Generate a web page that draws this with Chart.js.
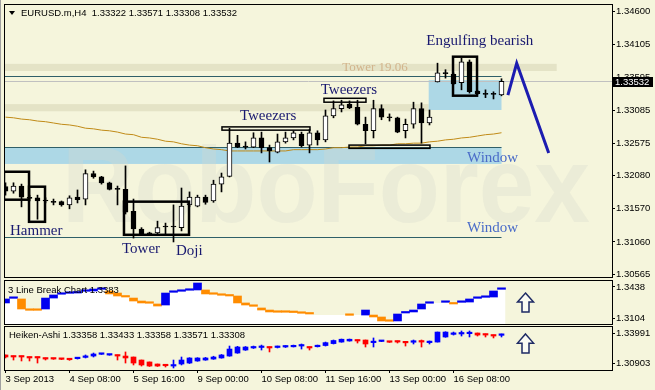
<!DOCTYPE html>
<html>
<head>
<meta charset="utf-8">
<script src="https://cdn.jsdelivr.net/npm/chart.js@4.4.1/dist/chart.umd.min.js"></script>
<style>
  html, body { margin: 0; padding: 0; background: #f5f5dc; }
  #wrap { position: relative; width: 655px; height: 390px; overflow: hidden; background: #f5f5dc; }
  #wrap canvas { position: absolute; left: 0; }
  #frame { position: absolute; left: 0; top: 0; width: 1px; height: 390px; background: #a0a0a0; }
</style>
</head>
<body>
<div id="wrap">
  <canvas id="main" width="655" height="280" style="top:0;width:655px;height:280px"></canvas>
  <canvas id="lbreak" width="655" height="45" style="top:280px;width:655px;height:45px"></canvas>
  <canvas id="heiken" width="655" height="65" style="top:325px;width:655px;height:65px"></canvas>
  <div id="frame"></div>
</div>
<script>
// EURUSD H4 candles, 3 Sep - 16 Sep 2013
const candleOpen = [1.3191, 1.3184, 1.3192, 1.3174, 1.3174, 1.3170, 1.3168, 1.3168, 1.3163, 1.3175,
  1.3172, 1.3211, 1.3206, 1.3197, 1.3188, 1.3187, 1.3153, 1.3126, 1.3120, 1.3120,
  1.3130, 1.3130, 1.3128, 1.3163, 1.3161, 1.3175, 1.3169, 1.3195, 1.3207, 1.3258,
  1.3253, 1.3252, 1.3266, 1.3251, 1.3244, 1.3260, 1.3266, 1.3272, 1.3255, 1.3274,
  1.3263, 1.3300, 1.3311, 1.3318, 1.3313, 1.3287, 1.3277, 1.3311, 1.3298, 1.3297,
  1.3277, 1.3287, 1.3311, 1.3289, 1.3352, 1.3366, 1.3364, 1.3351, 1.3383, 1.3338,
  1.3334, 1.3334, 1.33322];
const candleHigh = [1.3197, 1.3197, 1.3195, 1.3178, 1.3178, 1.3174, 1.3172, 1.3169, 1.3177, 1.3186,
  1.3217, 1.3215, 1.3207, 1.3198, 1.3192, 1.3223, 1.3172, 1.3128, 1.3121, 1.3138,
  1.3135, 1.3163, 1.3189, 1.3183, 1.3178, 1.3178, 1.3201, 1.3212, 1.3281, 1.3270,
  1.3260, 1.3274, 1.3275, 1.3255, 1.3272, 1.3275, 1.3277, 1.3275, 1.3279, 1.3277,
  1.3309, 1.3323, 1.3324, 1.3323, 1.3324, 1.3298, 1.3324, 1.3317, 1.3303, 1.3298,
  1.3295, 1.3321, 1.3320, 1.3309, 1.3381, 1.3371, 1.3366, 1.3389, 1.3386, 1.3339,
  1.3340, 1.3337, 1.33571];
const candleLow = [1.3178, 1.3181, 1.3160, 1.3169, 1.3141, 1.3166, 1.3163, 1.3161, 1.3157, 1.3166,
  1.3163, 1.3204, 1.3195, 1.3186, 1.3163, 1.3149, 1.3112, 1.3117, 1.3117, 1.3118,
  1.3118, 1.3106, 1.3123, 1.3160, 1.3160, 1.3164, 1.3167, 1.3183, 1.3206, 1.3251,
  1.3249, 1.3251, 1.3243, 1.3229, 1.3243, 1.3258, 1.3263, 1.3252, 1.3243, 1.3255,
  1.3260, 1.3297, 1.3306, 1.3311, 1.3286, 1.3257, 1.3266, 1.3294, 1.3292, 1.3274,
  1.3266, 1.3281, 1.3258, 1.3286, 1.3352, 1.3358, 1.3348, 1.3340, 1.3335, 1.3333,
  1.3328, 1.3326, 1.33308];
const candleClose = [1.3184, 1.3192, 1.3175, 1.3173, 1.3169, 1.3169, 1.3167, 1.3163, 1.3174, 1.3171,
  1.3211, 1.3206, 1.3197, 1.3187, 1.3187, 1.3152, 1.3126, 1.3118, 1.3118, 1.3128,
  1.3129, 1.3129, 1.3161, 1.3175, 1.3175, 1.3167, 1.3195, 1.3206, 1.3258, 1.3252,
  1.3252, 1.3266, 1.3251, 1.3246, 1.3260, 1.3266, 1.3274, 1.3254, 1.3274, 1.3263,
  1.3300, 1.3311, 1.3317, 1.3312, 1.3287, 1.3277, 1.3311, 1.3298, 1.3297, 1.3275,
  1.3287, 1.3311, 1.3289, 1.3298, 1.3366, 1.3365, 1.3349, 1.3383, 1.3337, 1.3334,
  1.3333, 1.3333, 1.33532];
const maValues = [1.3298, 1.3297, 1.3295, 1.3294, 1.3292, 1.3291, 1.3289, 1.3287, 1.3286, 1.3284,
  1.3281, 1.3280, 1.3278, 1.3277, 1.3275, 1.3272, 1.3271, 1.3267, 1.3266, 1.3264,
  1.3261, 1.3260, 1.3257, 1.3255, 1.3254, 1.3251, 1.3249, 1.3248, 1.3246, 1.3246,
  1.3246, 1.3246, 1.3246, 1.3246, 1.3246, 1.3246, 1.3248, 1.3248, 1.3248, 1.3248,
  1.3249, 1.3251, 1.3251, 1.3252, 1.3252, 1.3254, 1.3254, 1.3255, 1.3255, 1.3257,
  1.3257, 1.3258, 1.3258, 1.3260, 1.3261, 1.3263, 1.3264, 1.3266, 1.3267, 1.3269,
  1.3271, 1.3272, 1.3274];
const mainTicks = [1.34600, 1.34105, 1.33595, 1.33085, 1.32575, 1.32080, 1.31570, 1.31060, 1.30565];

// 3 Line Break bricks (1 up, -1 down, 0 none)
const brickLow = [1.3266, 1.3316, 1.3201, 1.3187, 1.3187, 1.3201, 1.3319, 1.3360, 1.3370, 1.3373,
  1.3392, 1.3395, 1.3413, 1.3363, 1.3341, 1.3330, 1.3287, 1.3266, 1.3263, 1.3233,
  1.3244, 1.3381, 1.3392, 1.3403, 1.3406, 1.3363, 1.3360, 1.3349, 1.3341, 1.3266,
  1.3244, 1.3230, 1.3190, 1.3169, 1.3166, 1.3166, 1.3163, 1.3155, 1.3147, 1.3136,
  1.3136, 1.3136, 1.3136, 1.3133, 1.3136, 1.3136, 1.3115, 1.3072, 1.3069, 1.3072,
  1.3158, 1.3169, 1.3201, 1.3263, 1.3266, 1.3273, 1.3255, 1.3273, 1.3276, 1.3316,
  1.3327, 1.3330, 1.3413];
const brickHigh = [1.3309, 1.3319, 1.3309, 1.3190, 1.3190, 1.3319, 1.3352, 1.3363, 1.3373, 1.3384,
  1.3395, 1.3416, 1.3416, 1.3395, 1.3373, 1.3333, 1.3319, 1.3287, 1.3266, 1.3255,
  1.3373, 1.3384, 1.3395, 1.3406, 1.3481, 1.3406, 1.3363, 1.3352, 1.3352, 1.3341,
  1.3266, 1.3233, 1.3212, 1.3190, 1.3169, 1.3169, 1.3166, 1.3158, 1.3158, 1.3136,
  1.3136, 1.3136, 1.3136, 1.3136, 1.3136, 1.3190, 1.3136, 1.3115, 1.3072, 1.3147,
  1.3169, 1.3190, 1.3255, 1.3266, 1.3266, 1.3276, 1.3266, 1.3276, 1.3309, 1.3319,
  1.3330, 1.3395, 1.3416];
const brickDir = [1, 1, -1, -1, -1, 1, 1, 1, 1, 1,
  1, 1, 1, -1, -1, -1, -1, -1, -1, -1,
  1, 1, 1, 1, 1, -1, -1, -1, -1, -1,
  -1, -1, -1, -1, -1, -1, -1, -1, -1, 0,
  0, 0, 0, -1, 0, 1, -1, -1, -1, 1,
  1, 1, 1, 1, 0, 1, -1, 1, 1, 1,
  1, 1, 1];
const lbreakTicks = [1.3438, 1.3104];

// Heiken-Ashi
const haOpen = [1.3173, 1.3162, 1.3162, 1.3152, 1.3152, 1.3142, 1.3140, 1.3131, 1.3131, 1.3135,
  1.3148, 1.3162, 1.3180, 1.3172, 1.3173, 1.3162, 1.3152, 1.3121, 1.3101, 1.3080,
  1.3068, 1.3059, 1.3080, 1.3090, 1.3111, 1.3121, 1.3131, 1.3142, 1.3162, 1.3193,
  1.3224, 1.3245, 1.3250, 1.3255, 1.3250, 1.3255, 1.3257, 1.3265, 1.3255, 1.3258,
  1.3270, 1.3290, 1.3306, 1.3317, 1.3327, 1.3327, 1.3300, 1.3312, 1.3308, 1.3317,
  1.3306, 1.3304, 1.3310, 1.3300, 1.3306, 1.3358, 1.3385, 1.3389, 1.3392, 1.3399,
  1.3389, 1.3378, 1.3375];
const haHigh = [1.3173, 1.3162, 1.3162, 1.3152, 1.3152, 1.3142, 1.3140, 1.3131, 1.3135, 1.3145,
  1.3173, 1.3193, 1.3190, 1.3178, 1.3173, 1.3204, 1.3152, 1.3121, 1.3101, 1.3080,
  1.3070, 1.3121, 1.3152, 1.3145, 1.3145, 1.3148, 1.3160, 1.3178, 1.3265, 1.3262,
  1.3260, 1.3265, 1.3275, 1.3255, 1.3265, 1.3270, 1.3275, 1.3286, 1.3255, 1.3275,
  1.3306, 1.3327, 1.3337, 1.3337, 1.3327, 1.3327, 1.3348, 1.3320, 1.3308, 1.3317,
  1.3306, 1.3327, 1.3327, 1.3317, 1.3409, 1.3412, 1.3409, 1.3420, 1.3420, 1.3399,
  1.3389, 1.3378, 1.3389];
const haLow = [1.3142, 1.3121, 1.3111, 1.3111, 1.3090, 1.3121, 1.3128, 1.3125, 1.3118, 1.3131,
  1.3142, 1.3152, 1.3178, 1.3170, 1.3121, 1.3090, 1.3070, 1.3059, 1.3055, 1.3055,
  1.3049, 1.3039, 1.3070, 1.3085, 1.3108, 1.3118, 1.3128, 1.3140, 1.3160, 1.3190,
  1.3220, 1.3240, 1.3224, 1.3204, 1.3245, 1.3250, 1.3255, 1.3234, 1.3224, 1.3255,
  1.3265, 1.3286, 1.3304, 1.3315, 1.3296, 1.3255, 1.3255, 1.3310, 1.3302, 1.3296,
  1.3265, 1.3286, 1.3255, 1.3286, 1.3306, 1.3355, 1.3378, 1.3368, 1.3358, 1.3368,
  1.3358, 1.3348, 1.3358];
const haClose = [1.3152, 1.3152, 1.3152, 1.3142, 1.3142, 1.3131, 1.3131, 1.3128, 1.3124, 1.3142,
  1.3155, 1.3183, 1.3185, 1.3175, 1.3162, 1.3142, 1.3090, 1.3070, 1.3059, 1.3059,
  1.3062, 1.3062, 1.3121, 1.3142, 1.3142, 1.3142, 1.3152, 1.3173, 1.3234, 1.3255,
  1.3255, 1.3255, 1.3255, 1.3245, 1.3255, 1.3265, 1.3272, 1.3268, 1.3245, 1.3270,
  1.3300, 1.3322, 1.3335, 1.3335, 1.3317, 1.3286, 1.3305, 1.3317, 1.3304, 1.3306,
  1.3298, 1.3310, 1.3306, 1.3304, 1.3409, 1.3409, 1.3392, 1.3395, 1.3395, 1.3378,
  1.3378, 1.3368, 1.3380];
const heikenTicks = [1.33991, 1.30903];

const xTickIdx = [0, 8, 16, 24, 32, 40, 48, 56];
const xTickLabels = ['3 Sep 2013', '4 Sep 08:00', '5 Sep 16:00', '9 Sep 00:00',
  '10 Sep 08:00', '11 Sep 16:00', '13 Sep 00:00', '16 Sep 08:00'];

const colors = {
  bg: '#f5f5dc',
  tan: '#e4e3c6',
  lightBlue: '#add8e6',
  level: '#2f5f68',
  bid: '#c0c0c0',
  ma: '#c08a17',
  note: '#191970',
  window: '#4a6cc8',
  tower: '#d2b48c',
  arrow: '#1c1cb0',
  up: '#0000f0',
  down: '#ff8c00',
  haUp: '#0000ff',
  haDown: '#ff0000'
};

const sans = '"Liberation Sans", Arial, sans-serif';
const serif = '"Liberation Serif", "Times New Roman", serif';
const axisFont = { family: sans, size: 9.5 };
const xMin = -0.1875;
const xMax = xMin + 608 / 8;
const idx = candleOpen.map((_, i) => i);

function xScale(display) {
  return {
    type: 'linear', display, min: xMin, max: xMax, offset: false,
    afterBuildTicks: (s) => { s.ticks = xTickIdx.map((v) => ({ value: v })); },
    afterFit: (s) => { s.height = display ? 20 : 0; s.paddingLeft = 0; s.paddingRight = 0; },
    ticks: { callback: (v, i) => xTickLabels[i], align: 'start', color: '#000', font: axisFont, padding: 1, autoSkip: false, maxRotation: 0, minRotation: 0 },
    grid: { drawOnChartArea: false, drawTicks: true, tickLength: 3, color: '#000', offset: false },
    border: { display: false }
  };
}

function yScale(min, max, ticks, digits) {
  return {
    position: 'right', min, max,
    afterBuildTicks: (s) => { s.ticks = ticks.map((v) => ({ value: v })); },
    afterFit: (s) => { s.width = 43; s.paddingTop = 0; s.paddingBottom = 0; },
    ticks: { callback: (v) => Number(v).toFixed(digits), color: '#000', font: axisFont, padding: 1 },
    grid: { drawOnChartArea: false, drawTicks: true, tickLength: 3, color: '#000' },
    border: { display: false }
  };
}

function frame(ctx, a) {
  ctx.save();
  ctx.strokeStyle = '#000';
  ctx.lineWidth = 1;
  ctx.strokeRect(a.left + 0.5, a.top - 0.5, a.right - a.left, a.bottom - a.top + 1);
  ctx.restore();
}

function upArrow(ctx, cx, top, bottom) {
  const head = top + (bottom - top) * 0.48;
  ctx.save();
  ctx.beginPath();
  ctx.moveTo(cx, top);
  ctx.lineTo(cx + 8, head);
  ctx.lineTo(cx + 3.5, head);
  ctx.lineTo(cx + 3.5, bottom);
  ctx.lineTo(cx - 3.5, bottom);
  ctx.lineTo(cx - 3.5, head);
  ctx.lineTo(cx - 8, head);
  ctx.closePath();
  ctx.fillStyle = '#fbfbf3';
  ctx.fill();
  ctx.strokeStyle = '#1e2a64';
  ctx.lineWidth = 1.5;
  ctx.stroke();
  ctx.restore();
}

const baseOptions = (padding, scales) => ({
  responsive: false,
  animation: false,
  events: [],
  layout: { padding },
  plugins: { legend: { display: false }, tooltip: { enabled: false } },
  scales
});

const mainDecor = {
  id: 'mainDecor',
  beforeDatasetsDraw(chart) {
    const { ctx, chartArea: a, scales: { x, y } } = chart;
    const px = (v) => x.getPixelForValue(v);
    const py = (v) => y.getPixelForValue(v);
    ctx.save();
    ctx.beginPath();
    ctx.rect(a.left, a.top, a.right - a.left, a.bottom - a.top);
    ctx.clip();
    const zone = (i0, i1, p0, p1, color) => {
      ctx.fillStyle = color;
      ctx.fillRect(px(i0), py(p1), px(i1) - px(i0), py(p0) - py(p1));
    };
    zone(-1, 68.9, 1.3369, 1.3380, colors.tan);
    zone(-1, 52.9, 1.3307, 1.3318, colors.tan);
    zone(-1, 62, 1.3226, 1.3252, colors.lightBlue);
    zone(52.9, 62, 1.3309, 1.3355, colors.lightBlue);

    // watermark
    ctx.fillStyle = 'rgba(214,218,206,0.32)';
    ctx.font = 'bold 108px ' + sans;
    ctx.textBaseline = 'alphabetic';
    ctx.fillText('RoboForex', 62, 222, 528);

    const level = (i1, p, color) => {
      const yy = Math.round(py(p)) + 0.5;
      ctx.strokeStyle = color;
      ctx.lineWidth = 1;
      ctx.beginPath();
      ctx.moveTo(a.left, yy);
      ctx.lineTo(px(i1), yy);
      ctx.stroke();
    };
    level(62, 1.3361, colors.level);
    level(62, 1.3252, colors.level);
    level(62, 1.3114, colors.level);
    level(90, candleClose[candleClose.length - 1], colors.bid);
    ctx.restore();
  },
  afterDatasetsDraw(chart) {
    const { ctx, chartArea: a, scales: { x, y } } = chart;
    const px = (v) => x.getPixelForValue(v);
    const py = (v) => y.getPixelForValue(v);
    ctx.save();
    ctx.beginPath();
    ctx.rect(a.left, a.top, a.right - a.left, a.bottom - a.top);
    ctx.clip();
    ctx.strokeStyle = '#000';
    const box = (i0, i1, p0, p1, lw) => {
      ctx.lineWidth = lw;
      ctx.strokeRect(px(i0), py(p1), px(i1) - px(i0), py(p0) - py(p1));
    };
    box(-0.19, 2.94, 1.3171, 1.3214, 2.5);
    box(2.94, 4.94, 1.3137, 1.3191, 2.5);
    box(14.81, 22.94, 1.3117, 1.3168, 2.5);
    box(27.06, 38.06, 1.3278, 1.3283, 1.5);
    box(39.81, 45.06, 1.3321, 1.3327, 1.5);
    box(42.94, 53.06, 1.3250, 1.3255, 1.5);
    box(55.94, 58.94, 1.3331, 1.3391, 2.5);

    const note = (s, i, p, font, color) => {
      ctx.font = font;
      ctx.fillStyle = color;
      ctx.textAlign = 'left';
      ctx.textBaseline = 'middle';
      ctx.fillText(s, px(i), py(p));
    };
    const noteFont = '15px ' + serif;
    note('Hammer', 0.56, 1.3123, noteFont, colors.note);
    note('Tower', 14.56, 1.3095, noteFont, colors.note);
    note('Doji', 21.3, 1.3092, noteFont, colors.note);
    note('Tweezers', 29.3, 1.3300, noteFont, colors.note);
    note('Tweezers', 39.4, 1.3340, noteFont, colors.note);
    note('Tower 19.06', 42.1, 1.3374, '13px ' + serif, colors.tower);
    note('Engulfing bearish', 52.6, 1.3415, noteFont, colors.note);
    note('Window', 57.7, 1.3235, noteFont, colors.window);
    note('Window', 57.7, 1.3128, noteFont, colors.window);

    ctx.strokeStyle = colors.arrow;
    ctx.lineWidth = 3;
    ctx.lineJoin = 'miter';
    ctx.beginPath();
    ctx.moveTo(px(62.8), py(1.3332));
    ctx.lineTo(px(63.9), py(1.3381));
    ctx.lineTo(px(67.9), py(1.3243));
    ctx.stroke();
    ctx.restore();
  },
  afterDraw(chart) {
    const { ctx, chartArea: a, scales: { y } } = chart;
    frame(ctx, a);
    const n = candleClose.length - 1;
    ctx.save();
    ctx.fillStyle = '#000';
    ctx.beginPath();
    ctx.moveTo(9, 11);
    ctx.lineTo(15, 11);
    ctx.lineTo(12, 15);
    ctx.closePath();
    ctx.fill();
    ctx.font = '9.5px ' + sans;
    ctx.textBaseline = 'middle';
    ctx.textAlign = 'left';
    const ohlc = [candleOpen[n], candleHigh[n], candleLow[n], candleClose[n]].map((v) => v.toFixed(5)).join(' ');
    ctx.fillText('EURUSD.m,H4  ' + ohlc, 21, 13);
    const yy = Math.round(y.getPixelForValue(candleClose[n]));
    ctx.fillRect(a.right, yy - 4, 41, 10);
    ctx.fillStyle = '#fff';
    ctx.fillText(candleClose[n].toFixed(5), a.right + 3, yy + 1);
    ctx.restore();
  }
};

new Chart(document.getElementById('main'), {
  type: 'bar',
  data: {
    datasets: [
      {
        type: 'bar',
        data: idx.map((i) => ({ x: i, y: [candleLow[i], candleHigh[i]] })),
        backgroundColor: '#000',
        barThickness: 1,
        minBarLength: 1,
        grouped: false,
        order: 1
      },
      {
        type: 'bar',
        data: idx.map((i) => ({ x: i, y: [candleOpen[i], candleClose[i]] })),
        backgroundColor: idx.map((i) => candleClose[i] > candleOpen[i] ? '#ffffff' : '#000000'),
        borderColor: '#000',
        borderWidth: 1,
        borderSkipped: false,
        barThickness: 5,
        minBarLength: 1,
        grouped: false,
        order: 0
      },
      {
        type: 'line',
        data: idx.map((i) => ({ x: i, y: maValues[i] })),
        borderColor: colors.ma,
        borderWidth: 1,
        pointRadius: 0,
        tension: 0,
        order: 2
      }
    ]
  },
  options: baseOptions({ left: 4, right: 0, top: 5, bottom: 3 }, {
    x: xScale(false),
    y: yScale(1.30521, 1.34705, mainTicks, 5)
  }),
  plugins: [mainDecor]
});

const lbreakDecor = {
  id: 'lbreakDecor',
  afterDraw(chart) {
    const { ctx, chartArea: a, scales: { x, y } } = chart;
    frame(ctx, a);
    ctx.save();
    ctx.font = '9.5px ' + sans;
    ctx.fillStyle = '#000';
    ctx.textBaseline = 'middle';
    ctx.fillText('3 Line Break Chart 1.3383', 8, 10);
    ctx.restore();
    upArrow(ctx, x.getPixelForValue(65), y.getPixelForValue(1.3373), y.getPixelForValue(1.3169));
  }
};

new Chart(document.getElementById('lbreak'), {
  type: 'bar',
  data: {
    datasets: [
      {
        type: 'line',
        data: idx.flatMap((i) => [{ x: i - 0.5, y: brickLow[i] }, { x: i + 0.5, y: brickLow[i] }]),
        borderWidth: 0,
        borderColor: 'rgba(0,0,0,0)',
        backgroundColor: '#ffffff',
        fill: 'start',
        pointRadius: 0,
        order: 2
      },
      {
        type: 'bar',
        data: idx.map((i) => ({ x: i, y: [brickLow[i], brickHigh[i]] })),
        backgroundColor: idx.map((i) => brickDir[i] > 0 ? colors.up : brickDir[i] < 0 ? colors.down : 'rgba(0,0,0,0)'),
        barThickness: 8,
        minBarLength: 1.5,
        grouped: false,
        order: 0
      }
    ]
  },
  options: baseOptions({ left: 4, right: 0, top: 1, bottom: 1 }, {
    x: xScale(false),
    y: yScale(1.30394, 1.35026, lbreakTicks, 4)
  }),
  plugins: [lbreakDecor]
});

const heikenDecor = {
  id: 'heikenDecor',
  afterDraw(chart) {
    const { ctx, chartArea: a, scales: { x, y } } = chart;
    frame(ctx, a);
    ctx.save();
    ctx.font = '9.5px ' + sans;
    ctx.fillStyle = '#000';
    ctx.textBaseline = 'middle';
    ctx.fillText('Heiken-Ashi 1.33358 1.33433 1.33358 1.33571 1.33308', 9, 10);
    ctx.restore();
    upArrow(ctx, x.getPixelForValue(65), y.getPixelForValue(1.3389), y.getPixelForValue(1.3193));
  }
};

const haColor = idx.map((i) => haClose[i] >= haOpen[i] ? colors.haUp : colors.haDown);

new Chart(document.getElementById('heiken'), {
  type: 'bar',
  data: {
    datasets: [
      {
        type: 'bar',
        data: idx.map((i) => ({ x: i, y: [haLow[i], haHigh[i]] })),
        backgroundColor: haColor,
        barThickness: 1,
        minBarLength: 1,
        grouped: false,
        order: 1
      },
      {
        type: 'bar',
        data: idx.map((i) => ({ x: i, y: [haOpen[i], haClose[i]] })),
        backgroundColor: haColor,
        barThickness: 5,
        minBarLength: 1.5,
        grouped: false,
        order: 0
      }
    ]
  },
  options: baseOptions({ left: 4, right: 0, top: 2, bottom: 0 }, {
    x: xScale(true),
    y: yScale(1.30183, 1.34609, heikenTicks, 5)
  }),
  plugins: [heikenDecor]
});
</script>
</body>
</html>
